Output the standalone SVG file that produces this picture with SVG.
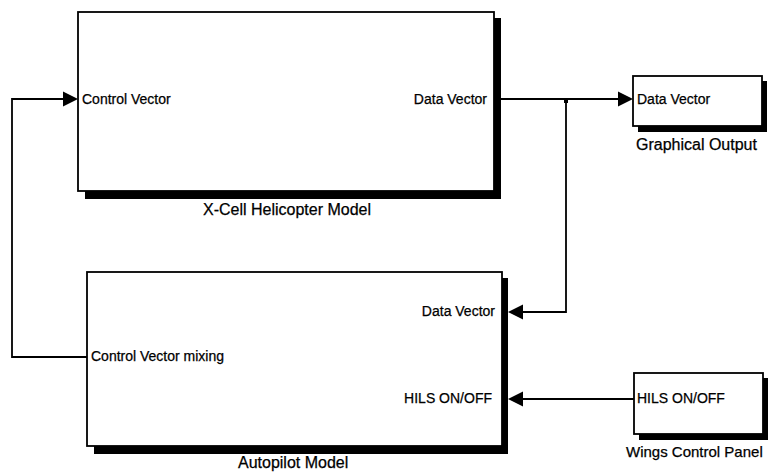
<svg xmlns="http://www.w3.org/2000/svg" width="768" height="472" viewBox="0 0 768 472">
<style>
.box{fill:#fff;stroke:#000;stroke-width:1.8}
.shadow{fill:#000}
.port{font-family:"Liberation Sans",Arial,sans-serif;font-size:14px;fill:#000;stroke:#000;stroke-width:0.25}
.name{font-family:"Liberation Sans",Arial,sans-serif;font-size:16px;fill:#000;stroke:#000;stroke-width:0.25}
.wire{fill:none;stroke:#000;stroke-width:1.8}
.head{fill:#000}
</style>
<rect width="768" height="472" fill="#fff"/>
<g id="connectors">
<path class="wire" d="M494 99 H619"/>
<polygon class="head" points="618,91.5 633,99 618,106.5"/>
<path class="wire" d="M566 99 V312 H522"/>
<rect x="564" y="98" width="4" height="5" fill="#000"/>
<polygon class="head" points="523,304.5 508,312 523,319.5"/>
<path class="wire" d="M634 399 H522"/>
<polygon class="head" points="523,391.5 508,399 523,406.5"/>
<path class="wire" d="M87 357 H12 V99 H64"/>
<polygon class="head" points="63,91.5 78,99 63,106.5"/>
</g>
<g id="helicopter">
<rect class="shadow" x="85" y="18" width="416" height="181"/>
<rect class="box" x="78" y="12" width="416" height="179"/>
<text class="port" x="82" y="104">Control Vector</text>
<text class="port" x="487" y="104" text-anchor="end">Data Vector</text>
<text class="name" x="203" y="215">X-Cell Helicopter Model</text>
</g>
<g id="graphical">
<rect class="shadow" x="638" y="81" width="129" height="51"/>
<rect class="box" x="633" y="76" width="129" height="50"/>
<text class="port" x="637" y="104">Data Vector</text>
<text class="name" x="636" y="150">Graphical Output</text>
</g>
<g id="autopilot">
<rect class="shadow" x="94" y="278" width="414" height="176"/>
<rect class="box" x="87" y="272" width="415" height="174"/>
<text class="port" x="495" y="316" text-anchor="end">Data Vector</text>
<text class="port" x="492" y="403" text-anchor="end">HILS ON/OFF</text>
<text class="port" x="91" y="361">Control Vector mixing</text>
<text class="name" x="238" y="468">Autopilot Model</text>
</g>
<g id="wings">
<rect class="shadow" x="639" y="378" width="129" height="62"/>
<rect class="box" x="634" y="373" width="129" height="61"/>
<text class="port" x="637" y="403">HILS ON/OFF</text>
<text class="name" x="626" y="457" style="font-size:15px">Wings Control Panel</text>
</g>
</svg>
